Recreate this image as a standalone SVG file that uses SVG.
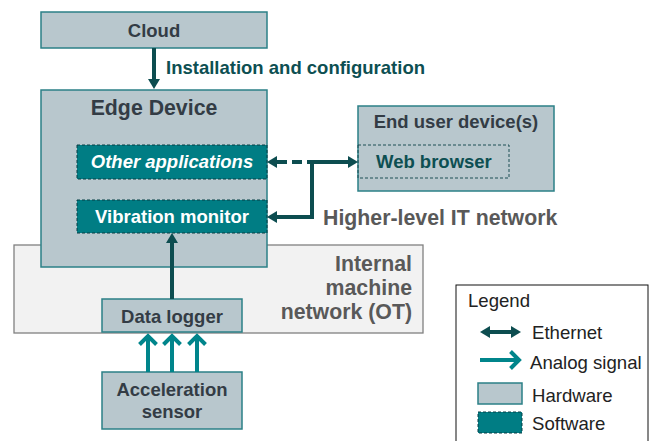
<svg xmlns="http://www.w3.org/2000/svg" width="650" height="441" viewBox="0 0 650 441">
<defs>
<style>
.hw{fill:#b8c7cd;stroke:#2b8087;stroke-width:1.5}
.sw{fill:#007d84;stroke:#073f44;stroke-width:1;stroke-dasharray:3 2}
.t{font-family:"Liberation Sans",Arial,sans-serif;font-weight:bold;font-size:18.5px;fill:#333c45;text-anchor:middle}
.big{font-size:21.3px}
.swt{fill:#ffffff}
.lbl{fill:#0d4f52;text-anchor:start}
.gry{fill:#595959}
.eth{fill:none;stroke:#0d4d50;stroke-width:4}
.ana{fill:none;stroke:#00858b;stroke-width:4}
.leg{font-family:"Liberation Sans",Arial,sans-serif;font-size:18.6px;fill:#222222}
</style>
<marker id="ah" viewBox="0 0 10 12" markerWidth="10" markerHeight="12" markerUnits="userSpaceOnUse" refX="0" refY="6" orient="auto-start-reverse">
<path d="M0,0 L10,6 L0,12 Z" fill="#0d4d50"/>
</marker>
<marker id="ao" viewBox="-12 -12 16 24" markerWidth="16" markerHeight="24" markerUnits="userSpaceOnUse" refX="0" refY="0" orient="auto">
<path d="M-8.5,-8.5 L0,0 L-8.5,8.5" fill="none" stroke="#00858b" stroke-width="4"/>
</marker>
</defs>

<g id="internal-network">
<rect x="14" y="245" width="409" height="88" fill="#f2f2f2" stroke="#808080" stroke-width="1.3"/>
<text class="t big gry" x="412" y="271" style="text-anchor:end">Internal</text>
<text class="t big gry" x="412" y="295" style="text-anchor:end">machine</text>
<text class="t big gry" x="412" y="319" style="text-anchor:end">network (OT)</text>
</g>

<g id="cloud">
<rect class="hw" x="41" y="12" width="226" height="36"/>
<text class="t" x="154" y="37">Cloud</text>
</g>

<g id="edge-device">
<rect class="hw" x="41" y="90" width="226" height="177"/>
<text class="t big" x="154" y="115">Edge Device</text>
</g>

<g id="other-applications">
<rect class="sw" x="77" y="145" width="190" height="34"/>
<text class="t swt" x="172" y="168" font-style="italic">Other applications</text>
</g>

<g id="vibration-monitor">
<rect class="sw" x="77" y="200" width="190" height="33"/>
<text class="t swt" x="172" y="223">Vibration monitor</text>
</g>

<g id="end-user-devices">
<rect class="hw" x="358" y="106" width="196" height="85"/>
<text class="t" x="456" y="128">End user device(s)</text>
</g>

<g id="web-browser">
<rect x="358" y="145" width="151" height="33" fill="none" stroke="#1d4f55" stroke-width="1" stroke-dasharray="3 2"/>
<text class="t lbl" x="376" y="168">Web browser</text>
</g>

<g id="data-logger">
<rect class="hw" x="102" y="299" width="140" height="33"/>
<text class="t" x="172" y="323">Data logger</text>
</g>

<g id="acceleration-sensor">
<rect class="hw" x="102" y="372" width="140" height="57"/>
<text class="t" x="172" y="396">Acceleration</text>
<text class="t" x="172" y="418">sensor</text>
</g>

<g id="connectors">
<path class="eth" d="M154,48 V79" marker-end="url(#ah)"/>
<path class="eth" d="M172,299 V243" marker-end="url(#ah)"/>
<path class="eth" d="M277,162 H312" stroke-dasharray="10 5" marker-start="url(#ah)"/>
<path class="eth" d="M310,162 H348" marker-end="url(#ah)"/>
<path class="eth" d="M312,160 V217 H277" marker-end="url(#ah)"/>
<path class="ana" d="M148,372 V336" marker-end="url(#ao)"/>
<path class="ana" d="M172,372 V336" marker-end="url(#ao)"/>
<path class="ana" d="M197,372 V336" marker-end="url(#ao)"/>
</g>

<text class="t lbl" x="166" y="74">Installation and configuration</text>
<text class="t big gry" x="323" y="225" style="text-anchor:start">Higher-level IT network</text>

<g id="legend">
<rect x="456" y="285" width="192" height="160" fill="#ffffff" stroke="#111111" stroke-width="1"/>
<text class="leg" x="468" y="307">Legend</text>
<path class="eth" d="M490,332 H511" marker-start="url(#ah)" marker-end="url(#ah)"/>
<text class="leg" x="532" y="339">Ethernet</text>
<path class="ana" d="M480,360 H519" marker-end="url(#ao)"/>
<text class="leg" x="530" y="369">Analog signal</text>
<rect class="hw" x="478" y="383" width="44" height="21"/>
<text class="leg" x="532" y="402">Hardware</text>
<rect class="sw" x="478" y="412" width="44" height="21"/>
<text class="leg" x="532" y="430">Software</text>
</g>
</svg>
